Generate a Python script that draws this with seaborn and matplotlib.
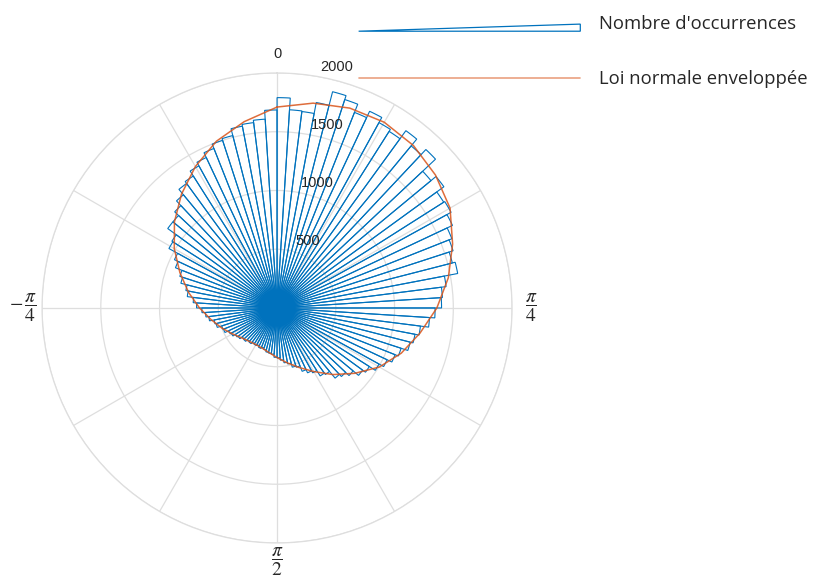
"""
Histogramme polaire des occurrences + loi normale enveloppée ajustée.
"""
import numpy as np
import pandas as pd
import matplotlib
matplotlib.use("Agg")
import matplotlib.pyplot as plt
import matplotlib.patches as mpatches
from matplotlib.lines import Line2D
from matplotlib.legend_handler import HandlerPatch
import seaborn as sns

# ── données ────────────────────────────────────────────────────────
# 100 classes de 3.6°, comptées dans le sens horaire depuis le haut
counts = [
    1790, 1690, 1685, 1780, 1900, 1865, 1790, 1850, 1800, 1780,
    1865, 1790, 1850, 1700, 1755, 1680, 1690, 1650, 1600, 1575,
    1540, 1565, 1450, 1410, 1400, 1345, 1300, 1230, 1195, 1170,
    1110, 1080, 1035, 990, 930, 900, 840, 800, 775, 700,
    685, 630, 610, 580, 530, 520, 485, 470, 445, 425,
    420, 395, 390, 385, 370, 360, 370, 355, 365, 360,
    375, 370, 390, 385, 410, 420, 445, 455, 490, 495,
    535, 545, 585, 610, 640, 685, 715, 770, 790, 845,
    870, 930, 965, 1050, 1060, 1150, 1150, 1195, 1250, 1310,
    1330, 1380, 1415, 1460, 1500, 1515, 1575, 1590, 1610, 1685,
]

# loi normale enveloppée (tous les 10°, boucle fermée)
env_deg = [0, 10, 20, 30, 40, 50, 60, 70, 80, 90, 100, 110, 120, 130, 140, 150,
           160, 170, 180, 190, 200, 210, 220, 230, 240, 250, 260, 270, 280, 290,
           300, 310, 320, 330, 340, 350, 360]
env_val = [1710, 1770, 1810, 1825, 1805, 1760, 1700, 1590, 1480, 1360, 1235,
           1125, 1005, 865, 740, 625, 538, 472, 422, 386, 365, 360, 370, 395,
           440, 500, 570, 660, 765, 880, 1010, 1140, 1265, 1390, 1510, 1610, 1710]

rticks = [500, 1000, 1500, 2000]
theta_labels = {0: "0", 90: r"$\dfrac{\pi}{4}$", 180: r"$\dfrac{\pi}{2}$",
                270: r"$-\,\dfrac{\pi}{4}$"}

BLUE, RED, GRID, TXT = "#0072BD", "#D95319", "#dedede", "#262626"

sns.set_theme(style="white")
plt.rcParams["font.family"] = ["Liberation Sans", "DejaVu Sans"]
plt.rcParams["mathtext.fontset"] = "stix"

fig = plt.figure(figsize=(8.32, 5.87), dpi=100)
ax = fig.add_axes([0.0505, 0.075, 0.565, 0.8007], projection="polar")
ax.set_theta_zero_location("N")
ax.set_theta_direction(-1)

# ── histogramme (barres non remplies) ─────────────────────────────
width = 2 * np.pi / len(counts)
edges = np.arange(len(counts)) * width
ax.bar(edges, counts, width=width, align="edge", fill=False,
       edgecolor=BLUE, linewidth=0.8, zorder=3)

# ── courbe de la loi ajustée ──────────────────────────────────────
env = pd.DataFrame({"theta": np.deg2rad(env_deg), "r": env_val})
sns.lineplot(data=env, x="theta", y="r", sort=False, ax=ax, color=RED,
             lw=1.1, alpha=0.85, zorder=4, legend=False)
ax.set_xlabel("")
ax.set_ylabel("")

# ── axes ──────────────────────────────────────────────────────────
ax.set_ylim(0, 2000)
ax.set_yticks(rticks)
ax.set_yticklabels([])
ticks = np.arange(0, 360, 30)
ax.set_xticks(np.deg2rad(ticks))
ax.set_xticklabels([theta_labels.get(int(t), "") for t in ticks],
                   fontsize=14, color=TXT)
ax.tick_params(axis="x", pad=1)
ax.grid(True, color=GRID, lw=0.9)
ax.spines["polar"].set_color(GRID)
ax.spines["polar"].set_linewidth(0.9)
for lab in ax.get_xticklabels():
    if lab.get_text() == "0":
        lab.set_fontsize(10.5)

for v in rticks:
    ax.annotate(f"{v}", xy=(np.deg2rad(9.5), v), xytext=(15, 6.5),
                textcoords="offset points", ha="center", va="center",
                fontsize=10.5, color=TXT, annotation_clip=False, zorder=5)


# ── légende ───────────────────────────────────────────────────────
def wedge(legend, orig_handle, xdescent, ydescent, width, height, fontsize):
    y0 = -ydescent - 0.2 * height
    return mpatches.Polygon([[-xdescent, y0], [width - xdescent, y0],
                             [width - xdescent, y0 + 0.55 * height]], closed=True)


h_bar = mpatches.Polygon([[0, 0], [1, 0], [1, 1]], closed=True, fill=False,
                         edgecolor=BLUE, lw=0.9)
h_line = Line2D([], [], color=RED, lw=1.2, alpha=0.55)
fig.legend([h_bar, h_line], ["Nombre d'occurrences", "Loi normale enveloppée"],
           loc="upper left", bbox_to_anchor=(342 / 832, 1 + 2 / 587),
           frameon=False, prop={"family": "Open Sans", "size": 13.3},
           labelcolor=TXT, handlelength=12.0, handletextpad=1.0,
           labelspacing=2.05,
           handler_map={mpatches.Polygon: HandlerPatch(patch_func=wedge)})

fig.savefig("out.png", dpi=100)
